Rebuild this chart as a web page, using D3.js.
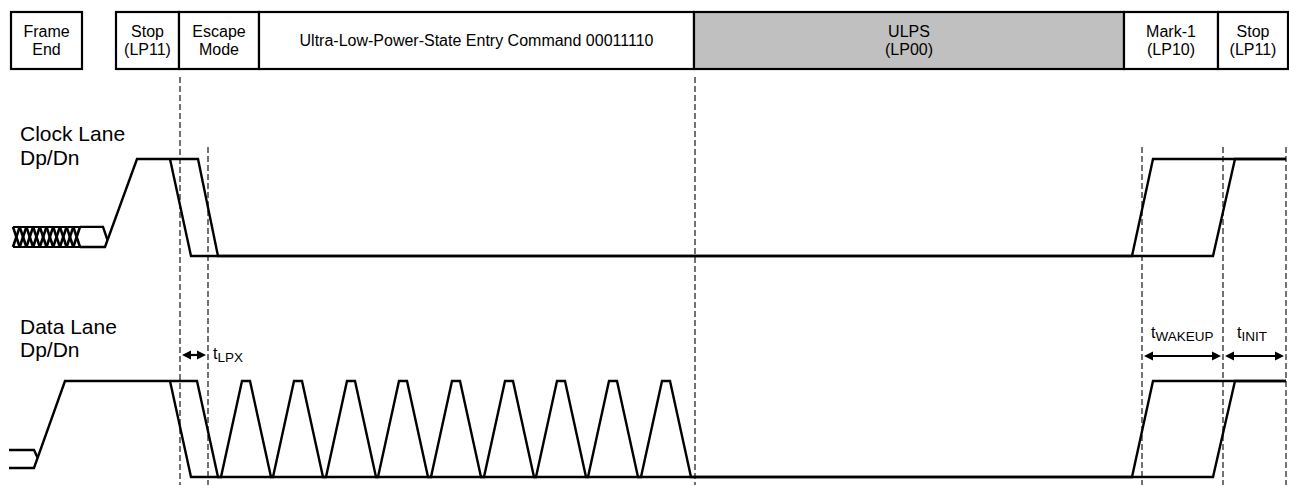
<!DOCTYPE html>
<html><head><meta charset="utf-8">
<script src="https://cdn.jsdelivr.net/npm/d3@7/dist/d3.min.js"></script>
<style>
body{margin:0;background:#fff}
svg{display:block}
text{font-family:"Liberation Sans",Arial,Helvetica,sans-serif;fill:#000}
</style>
</head><body>
<svg id="chart" width="1289" height="485"></svg>
<script>
// ---------------- data ----------------
const frameEndSpan = [11, 82];
const frameEndLabel = ["Frame", "End"];
const segmentBounds = [116, 179, 259, 694, 1124, 1218, 1288];
const segmentLabels = [["Stop", "(LP11)"], ["Escape", "Mode"], ["Ultra-Low-Power-State Entry Command 00011110"], ["ULPS", "(LP00)"], ["Mark-1", "(LP10)"], ["Stop", "(LP11)"]];
const segmentShaded = [false, false, false, true, false, false];
const markerTimes = [180, 208, 695, 1142, 1223, 1286];
const markerFromTop = [true, false, true, false, false, false];
const laneNames = [["Clock Lane", "Dp/Dn"], ["Data Lane", "Dp/Dn"]];
// clock lane (level 0 = LP low, 1 = LP high)
const clockBusCrossings = [13, 19.7, 26.4, 33.1, 39.8, 46.5, 53.2, 59.9, 66.6, 73.3, 80];
const clockBusLevels = [0.093, 0.3];
const clockTrace1 = [[80, 0.3], [103, 0.3], [107.5, 0.165]];
const clockTrace2 = [[80, 0.093], [105, 0.093], [137, 1], [198, 1], [218, 0], [1213, 0], [1235, 1], [1286, 1]];
const clockTrace3 = [[170, 1], [191, 0], [1132, 0], [1153, 1], [1286, 1]];
// data lane
const dataTrace1 = [[9, 0.281], [34, 0.281], [37.6, 0.2]];
const dataTraceStart = [[9, 0.094], [34, 0.094], [65, 1], [197, 1], [218, 0]];
const dataPulsePeaks = [246, 298, 351, 403, 456, 509, 561, 613, 666];
const dataTraceEnd = [[1213, 0], [1235, 1], [1286, 1]];
const dataTrace3 = [[170, 1], [191, 0], [1132, 0], [1153, 1], [1286, 1]];
// timing annotations
const arrowSpans = [[180, 208], [1142, 1223], [1223, 1286]];
const arrowMain = ["t", "t", "t"];
const arrowSubs = ["LPX", "WAKEUP", "INIT"];

// ---------------- layout ----------------
const W = 1289, H = 485;
const svg = d3.select("#chart");
const x = d3.scaleLinear().domain([0, W]).range([0, W]);
const yClock = d3.scaleLinear().domain([0, 1]).range([256, 159]);
const yData = d3.scaleLinear().domain([0, 1]).range([477, 381]);
const boxTop = 12, boxBot = 69;
const strokeW = 2.4;

// dashed markers
const lanesTop = 147;
svg.append("g").selectAll("line").data(markerTimes).join("line")
  .attr("x1", d => x(d)).attr("x2", d => x(d))
  .attr("y1", (d, i) => markerFromTop[i] ? 77 : lanesTop).attr("y2", H)
  .attr("stroke", "#000").attr("stroke-width", 1.1).attr("stroke-dasharray", "6,3");

// header boxes
const hdr = svg.append("g");
hdr.append("rect").attr("x", x(frameEndSpan[0])).attr("y", boxTop)
  .attr("width", x(frameEndSpan[1]) - x(frameEndSpan[0])).attr("height", boxBot - boxTop)
  .attr("fill", "#fff").attr("stroke", "#000").attr("stroke-width", 2.2);
const segs = segmentLabels.map((lab, i) => ({lab, a: segmentBounds[i], b: segmentBounds[i + 1], shade: segmentShaded[i]}));
hdr.selectAll("rect.seg").data(segs).join("rect").attr("class", "seg")
  .attr("x", d => x(d.a)).attr("y", boxTop).attr("width", d => x(d.b) - x(d.a)).attr("height", boxBot - boxTop)
  .attr("fill", d => d.shade ? "#c0c0c0" : "#fff").attr("stroke", "#000").attr("stroke-width", 2.2);
function boxText(cx, lines) {
  const t = hdr.append("text").attr("text-anchor", "middle").attr("font-size", 16);
  const bases = lines.length === 1 ? [46] : [37, 54.5];
  lines.forEach((s, j) => t.append("tspan").attr("x", cx).attr("y", bases[j]).text(s));
}
boxText(x((frameEndSpan[0] + frameEndSpan[1]) / 2), frameEndLabel);
segs.forEach(d => boxText(x((d.a + d.b) / 2), d.lab));

// lane labels
const laneBase = [[141, 165], [334, 357]];
laneNames.forEach((ln, i) => {
  const t = svg.append("text").attr("font-size", 21);
  ln.forEach((s, j) => t.append("tspan").attr("x", 20).attr("y", laneBase[i][j]).text(s));
});

// traces
function trace(pts, y) {
  const line = d3.line().x(d => x(d[0])).y(d => y(d[1]));
  svg.append("path").attr("d", line(pts)).attr("fill", "none")
    .attr("stroke", "#000").attr("stroke-width", strokeW).attr("stroke-linejoin", "miter");
}
// clock bus hatch
const busG = svg.append("g");
for (let i = 0; i < clockBusCrossings.length - 1; i++) {
  const a = clockBusCrossings[i], b = clockBusCrossings[i + 1];
  busG.append("path").attr("d", d3.line()([[x(a), yClock(clockBusLevels[1])], [x(b), yClock(clockBusLevels[0])]]))
    .attr("stroke", "#000").attr("stroke-width", 2.6).attr("fill", "none");
  busG.append("path").attr("d", d3.line()([[x(a), yClock(clockBusLevels[0])], [x(b), yClock(clockBusLevels[1])]]))
    .attr("stroke", "#000").attr("stroke-width", 2.6).attr("fill", "none");
}
busG.append("line").attr("x1", x(clockBusCrossings[0])).attr("x2", x(clockBusCrossings[clockBusCrossings.length - 1]))
  .attr("y1", yClock(clockBusLevels[1])).attr("y2", yClock(clockBusLevels[1])).attr("stroke", "#000").attr("stroke-width", 2);
busG.append("line").attr("x1", x(clockBusCrossings[0])).attr("x2", x(clockBusCrossings[clockBusCrossings.length - 1]))
  .attr("y1", yClock(clockBusLevels[0])).attr("y2", yClock(clockBusLevels[0])).attr("stroke", "#000").attr("stroke-width", 2);

trace(clockTrace1, yClock);
trace(clockTrace2, yClock);
trace(clockTrace3, yClock);

const pulsePts = [];
dataPulsePeaks.forEach(p => { pulsePts.push([p - 25, 0], [p - 4, 1], [p + 4, 1], [p + 25, 0]); });
trace(dataTrace1, yData);
trace(dataTraceStart.concat(pulsePts, dataTraceEnd), yData);
trace(dataTrace3, yData);

// arrows
const arrowY = [355, 356, 356];
const labelPos = [[213, 359], [1151, 338], [1237, 338]];
const ag = svg.append("g");
arrowSpans.forEach((s, i) => {
  const a = x(s[0]) + 2, b = x(s[1]) - 2, y = arrowY[i], hl = 9, hw = 4.5;
  ag.append("line").attr("x1", a + 3).attr("x2", b - 3).attr("y1", y).attr("y2", y).attr("stroke", "#000").attr("stroke-width", 2.2);
  ag.append("path").attr("d", `M${a},${y}L${a + hl},${y - hw}L${a + hl},${y + hw}Z`).attr("fill", "#000");
  ag.append("path").attr("d", `M${b},${y}L${b - hl},${y - hw}L${b - hl},${y + hw}Z`).attr("fill", "#000");
  const t = ag.append("text").attr("x", labelPos[i][0]).attr("y", labelPos[i][1]).attr("font-size", 16);
  t.append("tspan").text(arrowMain[i]);
  t.append("tspan").attr("font-size", 13.5).attr("dy", 2.5).text(arrowSubs[i]);
});
</script>
</body></html>
